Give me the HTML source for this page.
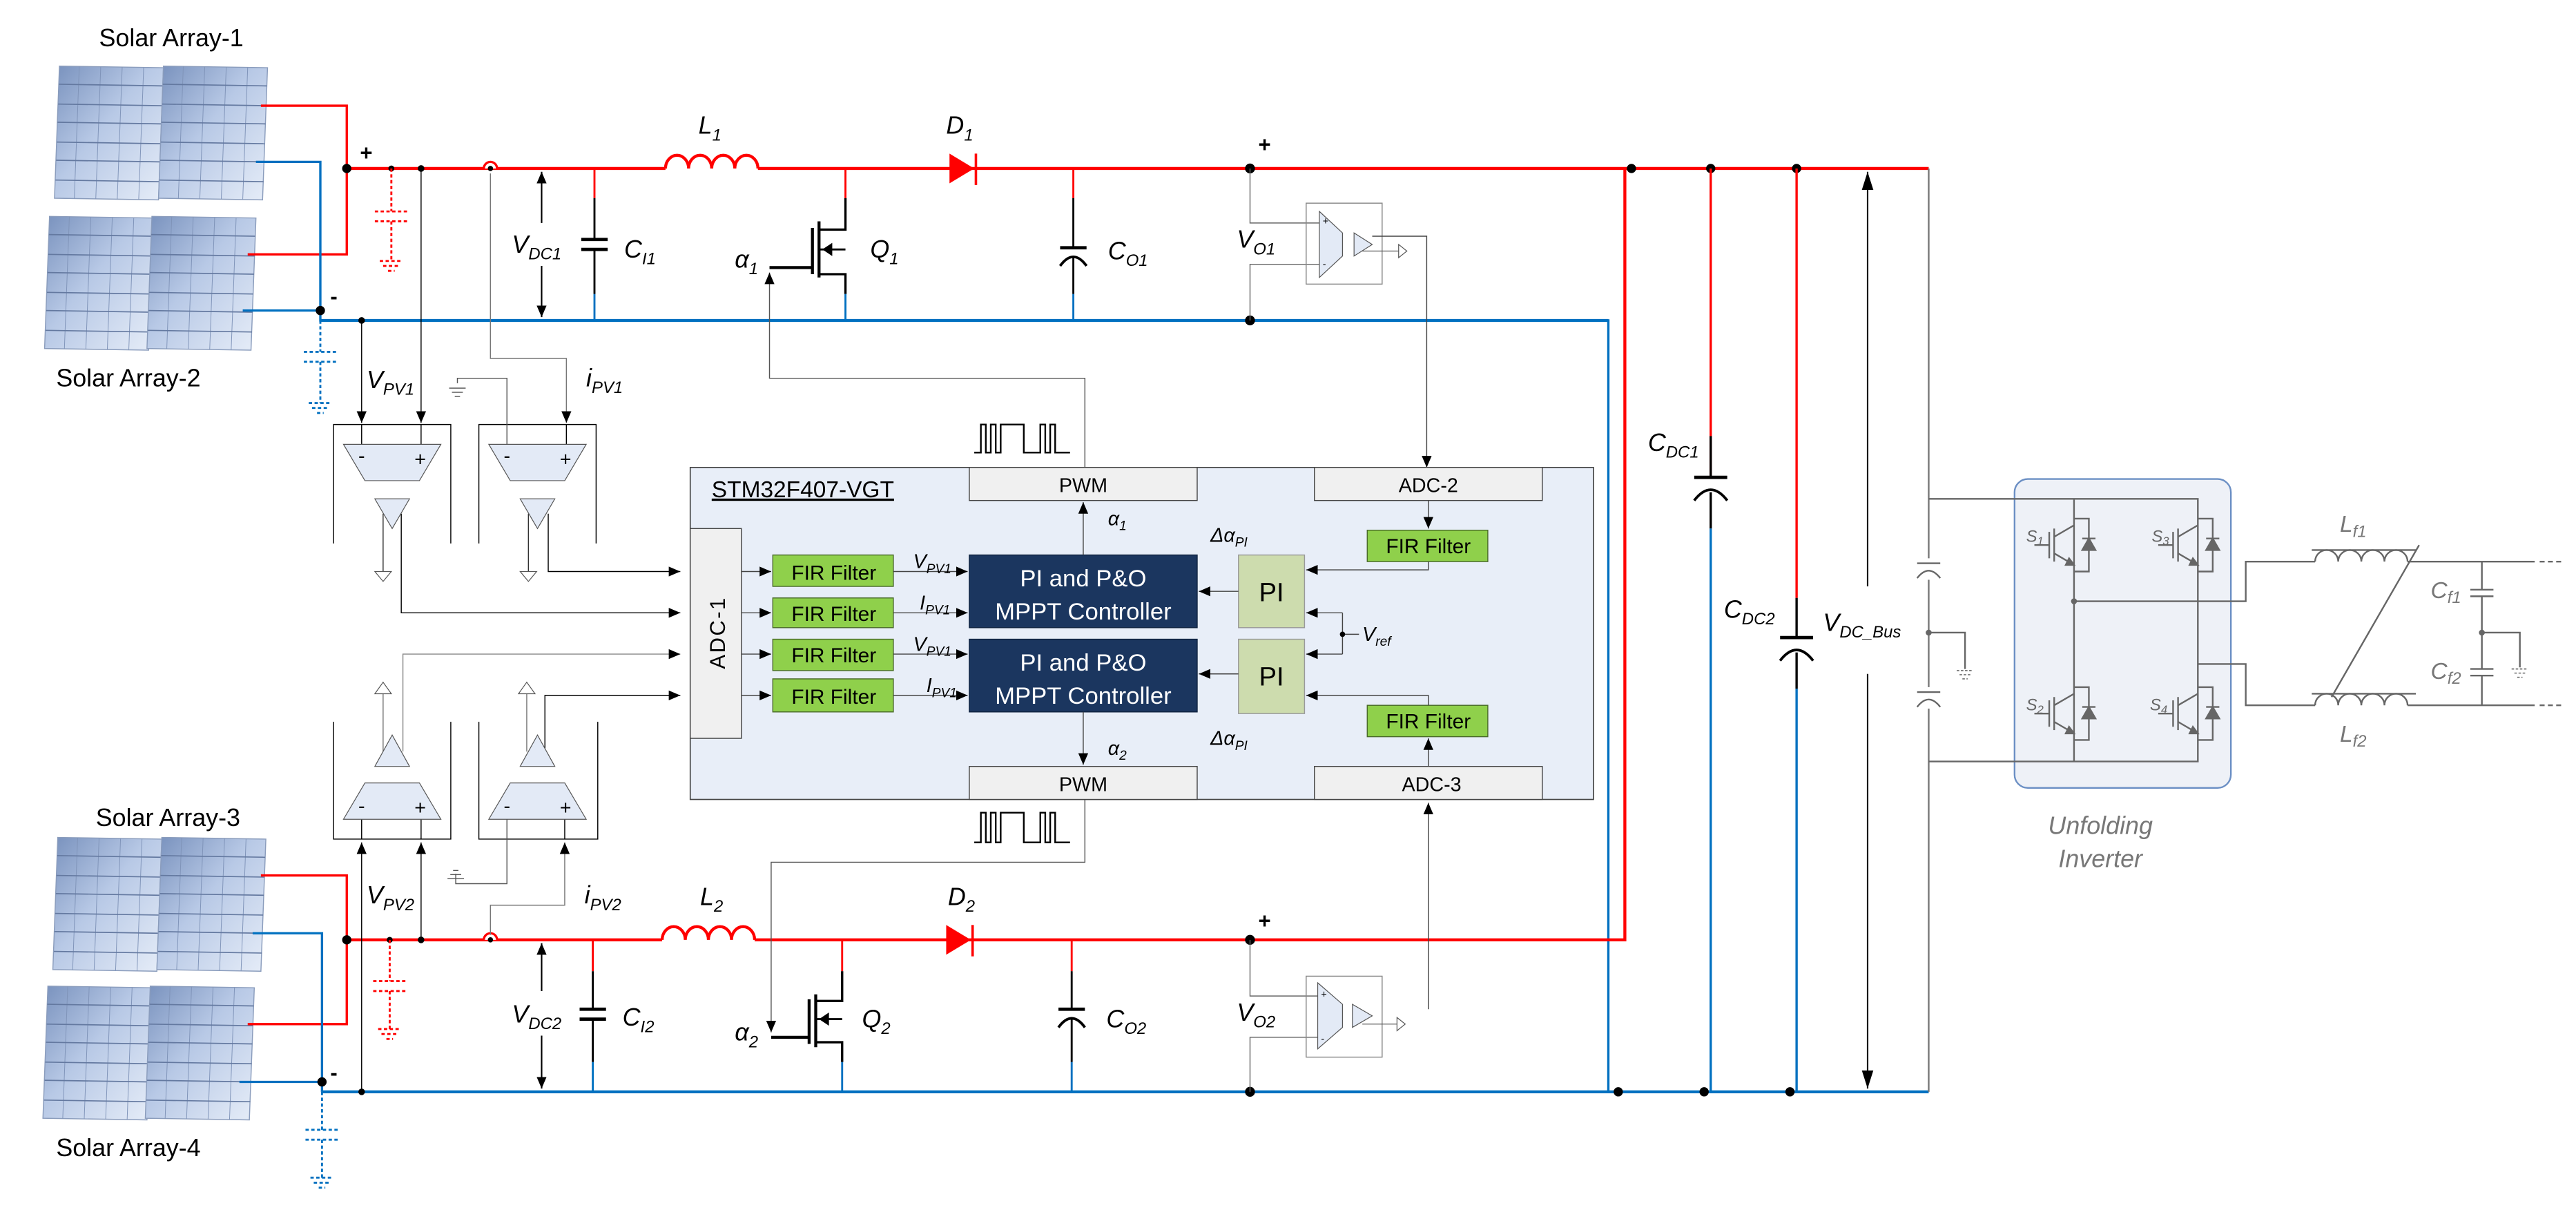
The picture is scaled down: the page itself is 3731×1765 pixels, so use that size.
<!DOCTYPE html>
<html><head><meta charset="utf-8"><style>
html,body{margin:0;padding:0;background:#fff;}
svg{display:block;}
text{font-family:"Liberation Sans",Arial,sans-serif;}
.it{font-style:italic;}
</style></head><body>
<svg width="3731" height="1765" viewBox="0 0 1560 738" preserveAspectRatio="none" xmlns="http://www.w3.org/2000/svg">
<defs>
<linearGradient id="pg" x1="0" y1="0" x2="1" y2="1">
<stop offset="0" stop-color="#7891bd"/><stop offset="0.45" stop-color="#b8c9e6"/><stop offset="1" stop-color="#e6edf8"/></linearGradient>
<g id="panel">
<polygon points="3,0 66,1 63,81 0,80" fill="url(#pg)" stroke="#8a9cbc" stroke-width="0.6"/>
<g stroke="#7f93b8" stroke-width="0.4">
<line x1="15" y1="0.2" x2="12" y2="80.2"/><line x1="28" y1="0.4" x2="25" y2="80.4"/><line x1="41" y1="0.6" x2="38" y2="80.6"/><line x1="54" y1="0.8" x2="51" y2="80.8"/>
</g>
<g stroke="#6479a0" stroke-width="0.7">
<line x1="2.6" y1="11" x2="65.6" y2="12"/><line x1="2.2" y1="23" x2="65.2" y2="24"/><line x1="1.8" y1="34" x2="64.8" y2="35"/><line x1="1.4" y1="46" x2="64.4" y2="47"/><line x1="1" y1="57" x2="64" y2="58"/><line x1="0.6" y1="69" x2="63.6" y2="70"/>
</g></g>
<marker id="ah" markerWidth="8" markerHeight="8" refX="7" refY="4" orient="auto" markerUnits="userSpaceOnUse"><path d="M0,1 L7,4 L0,7 z" fill="#000"/></marker>
<marker id="ahb" markerWidth="12" markerHeight="12" refX="11" refY="6" orient="auto" markerUnits="userSpaceOnUse"><path d="M0,2.5 L11,6 L0,9.5 z" fill="#000"/></marker>
<g id="gnd" stroke="#555" stroke-width="0.6"><line x1="-5" y1="0" x2="5" y2="0"/><line x1="-3.3" y1="2.5" x2="3.3" y2="2.5"/><line x1="-1.6" y1="5" x2="1.6" y2="5"/></g>
<g id="igbt" stroke="#666" stroke-width="1" fill="none">
<line x1="-12" y1="-10" x2="-12" y2="10"/><line x1="-15" y1="-8" x2="-15" y2="8"/><line x1="-24" y1="0" x2="-15" y2="0"/>
<line x1="-12" y1="-5" x2="0" y2="-12"/><line x1="-12" y1="5" x2="0" y2="12"/>
<path d="M-3,8 L0,12 L-5,12 z" fill="#666"/>
<polyline points="0,-16 9,-16 9,16 0,16"/>
<path d="M5,3 L13,3 L9,-4 z" fill="#666"/><line x1="5" y1="-4" x2="13" y2="-4"/>
</g>
</defs>

<use href="#panel" x="33" y="40"/><use href="#panel" x="96" y="40"/>
<use href="#panel" x="27" y="131"/><use href="#panel" x="89" y="131"/>
<use href="#panel" x="32" y="507"/><use href="#panel" x="95" y="507"/>
<use href="#panel" x="26" y="597"/><use href="#panel" x="88" y="597"/>

<g font-size="15" fill="#000">
<text x="60" y="28">Solar Array-1</text>
<text x="34" y="234">Solar Array-2</text>
<text x="58" y="500">Solar Array-3</text>
<text x="34" y="700">Solar Array-4</text>
</g>

<g fill="none" stroke-linejoin="miter">
<polyline points="158,64 210,64 210,154 150,154" stroke="#f00" stroke-width="1.4"/>
<polyline points="210,102 403,102" stroke="#f00" stroke-width="1.8"/>
<polyline points="459,102 1168,102" stroke="#f00" stroke-width="1.8"/>
<polyline points="155,98 194,98 194,194 974,194 974,661" stroke="#0070c0" stroke-width="1.4"/>
<line x1="147" y1="188" x2="194" y2="188" stroke="#0070c0" stroke-width="1.4"/>
<line x1="194" y1="194" x2="974" y2="194" stroke="#0070c0" stroke-width="1.8"/>
<polyline points="158,530 210,530 210,620 150,620" stroke="#f00" stroke-width="1.4"/>
<polyline points="210,569 401,569" stroke="#f00" stroke-width="1.8"/>
<polyline points="457,569 984,569 984,102" stroke="#f00" stroke-width="1.8"/>
<polyline points="153,565 195,565 195,661" stroke="#0070c0" stroke-width="1.4"/>
<line x1="145" y1="655" x2="195" y2="655" stroke="#0070c0" stroke-width="1.4"/>
<line x1="195" y1="661" x2="1168" y2="661" stroke="#0070c0" stroke-width="1.8"/>
</g>

<path d="M403,102 a7,8 0 0 1 14,0 a7,8 0 0 1 14,0 a7,8 0 0 1 14,0 a7,8 0 0 1 14,0" fill="none" stroke="#f00" stroke-width="1.8"/>
<path d="M401,569 a7,8 0 0 1 14,0 a7,8 0 0 1 14,0 a7,8 0 0 1 14,0 a7,8 0 0 1 14,0" fill="none" stroke="#f00" stroke-width="1.8"/>
<path d="M575,93 L590,102 L575,111 z" fill="#f00"/><line x1="591" y1="93" x2="591" y2="112" stroke="#f00" stroke-width="1.5"/>
<path d="M573,560 L588,569 L573,578 z" fill="#f00"/><line x1="589" y1="560" x2="589" y2="579" stroke="#f00" stroke-width="1.5"/>

<g fill="#000">
<circle cx="210" cy="102" r="2.8"/><circle cx="237" cy="102" r="1.8"/><circle cx="255" cy="102" r="2"/>
<circle cx="194" cy="188" r="2.8"/><circle cx="219" cy="194" r="2"/>
<circle cx="757" cy="102" r="3"/><circle cx="757" cy="194" r="3"/>
<circle cx="988" cy="102" r="2.8"/><circle cx="1036" cy="102" r="2.8"/><circle cx="1088" cy="102" r="2.8"/>
<circle cx="210" cy="569" r="2.8"/><circle cx="236" cy="569" r="1.8"/><circle cx="255" cy="569" r="2"/>
<circle cx="195" cy="655" r="2.8"/><circle cx="219" cy="661" r="2"/>
<circle cx="757" cy="569" r="3"/><circle cx="757" cy="661" r="3"/>
<circle cx="980" cy="661" r="2.8"/><circle cx="1032" cy="661" r="2.8"/><circle cx="1084" cy="661" r="2.8"/>
</g>
<path d="M293,102 a4,4 0 0 1 8,0" fill="#fff" stroke="#f00" stroke-width="1.4"/><circle cx="297" cy="102" r="1.6" fill="#000"/>
<path d="M293,569 a4,4 0 0 1 8,0" fill="#fff" stroke="#f00" stroke-width="1.4"/><circle cx="297" cy="569" r="1.6" fill="#000"/>

<g font-size="13" font-weight="bold"><text x="218" y="97">+</text><text x="200" y="184">-</text>
<text x="762" y="92">+</text><text x="200" y="654">-</text><text x="762" y="562">+</text></g>

<g fill="none" stroke-dasharray="2,1.5" stroke-width="1.2">
<g stroke="#f00">
<line x1="237" y1="102" x2="237" y2="128"/><line x1="227" y1="128" x2="247" y2="128"/><line x1="227" y1="134" x2="247" y2="134"/><line x1="237" y1="134" x2="237" y2="158"/>
<line x1="230" y1="158" x2="244" y2="158"/><line x1="232" y1="161" x2="242" y2="161"/><line x1="235" y1="164" x2="239" y2="164"/>
<line x1="236" y1="569" x2="236" y2="594"/><line x1="226" y1="594" x2="246" y2="594"/><line x1="226" y1="600" x2="246" y2="600"/><line x1="236" y1="600" x2="236" y2="623"/>
<line x1="229" y1="623" x2="243" y2="623"/><line x1="231" y1="626" x2="241" y2="626"/><line x1="234" y1="629" x2="238" y2="629"/>
</g>
<g stroke="#0070c0">
<line x1="194" y1="194" x2="194" y2="213"/><line x1="184" y1="213" x2="204" y2="213"/><line x1="184" y1="219" x2="204" y2="219"/><line x1="194" y1="219" x2="194" y2="244"/>
<line x1="187" y1="244" x2="201" y2="244"/><line x1="189" y1="247" x2="199" y2="247"/><line x1="192" y1="250" x2="196" y2="250"/>
<line x1="195" y1="661" x2="195" y2="684"/><line x1="185" y1="684" x2="205" y2="684"/><line x1="185" y1="690" x2="205" y2="690"/><line x1="195" y1="690" x2="195" y2="713"/>
<line x1="188" y1="713" x2="202" y2="713"/><line x1="190" y1="716" x2="200" y2="716"/><line x1="193" y1="719" x2="197" y2="719"/>
</g></g>

<g stroke="#000" stroke-width="0.9" fill="none">
<line x1="328" y1="135" x2="328" y2="104" marker-end="url(#ah)"/><line x1="328" y1="161" x2="328" y2="192" marker-end="url(#ah)"/>
<line x1="328" y1="600" x2="328" y2="571" marker-end="url(#ah)"/><line x1="328" y1="627" x2="328" y2="659" marker-end="url(#ah)"/>
</g>

<g fill="none" stroke-width="1.2">
<line x1="360" y1="102" x2="360" y2="120" stroke="#f00"/><line x1="360" y1="120" x2="360" y2="145" stroke="#000"/><line x1="360" y1="151" x2="360" y2="178" stroke="#000"/><line x1="360" y1="178" x2="360" y2="194" stroke="#0070c0"/>
<line x1="352" y1="145" x2="368" y2="145" stroke="#000" stroke-width="2"/><line x1="352" y1="151" x2="368" y2="151" stroke="#000" stroke-width="2"/>
<line x1="359" y1="569" x2="359" y2="588" stroke="#f00"/><line x1="359" y1="588" x2="359" y2="611" stroke="#000"/><line x1="359" y1="617" x2="359" y2="643" stroke="#000"/><line x1="359" y1="643" x2="359" y2="661" stroke="#0070c0"/>
<line x1="351" y1="611" x2="367" y2="611" stroke="#000" stroke-width="2"/><line x1="351" y1="617" x2="367" y2="617" stroke="#000" stroke-width="2"/>
<line x1="650" y1="102" x2="650" y2="120" stroke="#f00"/><line x1="650" y1="120" x2="650" y2="150" stroke="#000"/><line x1="650" y1="155" x2="650" y2="178" stroke="#000"/><line x1="650" y1="178" x2="650" y2="194" stroke="#0070c0"/>
<line x1="642" y1="150" x2="658" y2="150" stroke="#000" stroke-width="2"/><path d="M642,161 Q650,150 658,161" stroke="#000" stroke-width="1.6"/>
<line x1="649" y1="569" x2="649" y2="588" stroke="#f00"/><line x1="649" y1="588" x2="649" y2="611" stroke="#000"/><line x1="649" y1="616" x2="649" y2="643" stroke="#000"/><line x1="649" y1="643" x2="649" y2="661" stroke="#0070c0"/>
<line x1="641" y1="611" x2="657" y2="611" stroke="#000" stroke-width="2"/><path d="M641,622 Q649,611 657,622" stroke="#000" stroke-width="1.6"/>
</g>

<g fill="none" stroke="#000">
<line x1="512" y1="102" x2="512" y2="120" stroke="#f00" stroke-width="1.2"/>
<polyline points="512,120 512,139 496,139" stroke-width="1.4"/>
<line x1="496" y1="134" x2="496" y2="168" stroke-width="1.8"/>
<line x1="492" y1="138" x2="492" y2="166" stroke-width="1.8"/>
<polyline points="466,162 492,162" stroke-width="1.8"/>
<polyline points="496,166 512,166 512,178" stroke-width="1.4"/>
<line x1="496" y1="151" x2="512" y2="151" stroke-width="1.2"/>
<line x1="512" y1="178" x2="512" y2="194" stroke="#0070c0" stroke-width="1.2"/>
<line x1="510" y1="569" x2="510" y2="588" stroke="#f00" stroke-width="1.2"/>
<polyline points="510,588 510,606 494,606" stroke-width="1.4"/>
<line x1="494" y1="602" x2="494" y2="634" stroke-width="1.8"/>
<line x1="490" y1="605" x2="490" y2="632" stroke-width="1.8"/>
<polyline points="467,628 490,628" stroke-width="1.8"/>
<polyline points="494,631 510,631 510,643" stroke-width="1.4"/>
<line x1="494" y1="617" x2="510" y2="617" stroke-width="1.2"/>
<line x1="510" y1="643" x2="510" y2="661" stroke="#0070c0" stroke-width="1.2"/>
</g>
<path d="M498,151 L504,147 L504,155 z" fill="#000"/><path d="M496,617 L502,613 L502,621 z" fill="#000"/>

<g fill="none" stroke="#555" stroke-width="0.6">
<polyline points="657,283 657,229 466,229 466,165" marker-end="url(#ah)"/>
<polyline points="657,484 657,522 467,522 467,625" marker-end="url(#ah)"/>
</g>
<g fill="none" stroke="#000" stroke-width="1">
<polyline points="590,274 594,274 594,257 597,257 597,274 600,274 600,257 603,257 603,274 606,274 606,257 620,257 620,274 630,274 630,257 633,257 633,274 636,274 636,257 639,257 639,274 648,274"/>
<polyline points="590,510 594,510 594,492 597,492 597,510 600,510 600,492 603,492 603,510 606,510 606,492 620,492 620,510 630,510 630,492 633,492 633,510 636,510 636,492 639,492 639,510 648,510"/>
</g>

<g fill="none" stroke="#666" stroke-width="0.6">
<polyline points="757,102 757,135 799,135"/><polyline points="757,194 757,160 799,160"/>
<rect x="791" y="123" width="46" height="49" stroke="#888"/>
<polyline points="831,143 864,143 864,283" stroke="#444" marker-end="url(#ah)"/>
<polyline points="757,569 757,603 798,603"/><polyline points="757,661 757,628 798,628"/>
<rect x="791" y="591" width="46" height="49" stroke="#888"/>
<polyline points="865,611 865,486" stroke="#444" marker-end="url(#ah)"/>
</g>
<g fill="#e3eaf6" stroke="#555" stroke-width="0.5">
<polygon points="799,128 813,141 813,155 799,168"/><polygon points="820,141 831,148 820,155"/>
<polygon points="798,595 813,608 813,622 798,635"/><polygon points="819,608 831,615 819,622"/>
</g>
<g fill="#fff" stroke="#555" stroke-width="0.5"><polygon points="847,148 852,152 847,156"/><polygon points="846,616 851,620 846,624"/>
<line x1="825" y1="152" x2="847" y2="152"/><line x1="825" y1="620" x2="846" y2="620"/></g>
<g font-size="6" fill="#000"><text x="801" y="136">+</text><text x="801" y="162">-</text><text x="800" y="604">+</text><text x="800" y="631">-</text></g>

<g fill="none" stroke="#000" stroke-width="0.6">
<polyline points="202,329 202,257 273,257 273,329"/><polyline points="290,329 290,257 361,257 361,329"/>
<polyline points="202,437 202,508 273,508 273,437"/><polyline points="290,437 290,508 362,508 362,437"/>
<line x1="219" y1="194" x2="219" y2="256" marker-end="url(#ah)"/><line x1="219" y1="257" x2="219" y2="269"/>
<line x1="255" y1="102" x2="255" y2="256" marker-end="url(#ah)"/><line x1="255" y1="257" x2="255" y2="269"/>
<polyline points="297,105 297,217 343,217 343,256" stroke="#777" marker-end="url(#ah)"/><line x1="343" y1="257" x2="343" y2="269"/>
<polyline points="277,232 277,229 307,229 307,269" stroke="#555"/>
<line x1="232" y1="311" x2="232" y2="346" stroke="#333"/><polyline points="243,311 243,371 412,371" marker-end="url(#ah)"/>
<line x1="320" y1="311" x2="320" y2="346" stroke="#333"/><polyline points="332,311 332,346 412,346" marker-end="url(#ah)"/>
<line x1="219" y1="661" x2="219" y2="510" marker-end="url(#ah)"/><line x1="219" y1="508" x2="219" y2="496"/>
<line x1="255" y1="569" x2="255" y2="510" marker-end="url(#ah)"/><line x1="255" y1="508" x2="255" y2="496"/>
<polyline points="297,566 297,548 342,548 342,510" stroke="#777" marker-end="url(#ah)"/><line x1="342" y1="508" x2="342" y2="496"/>
<polyline points="276,529 276,535 307,535 307,496" stroke="#555"/>
<line x1="232" y1="455" x2="232" y2="420" stroke="#777"/><polyline points="244,455 244,396 412,396" stroke="#888" marker-end="url(#ah)"/>
<line x1="319" y1="455" x2="319" y2="420" stroke="#777"/><polyline points="330,455 330,421 412,421" marker-end="url(#ah)"/>
</g>
<use href="#gnd" x="277" y="235"/><use href="#gnd" x="276" y="527" transform="rotate(180 276 529.5)"/>
<g fill="#e3eaf6" stroke="#555" stroke-width="0.5">
<polygon points="208,269 267,269 254,291 221,291"/><polygon points="296,269 355,269 342,291 309,291"/>
<polygon points="227,302 248,302 237.5,320"/><polygon points="315,302 336,302 325.5,320"/>
<polygon points="221,474 254,474 267,496 208,496"/><polygon points="309,474 342,474 355,496 296,496"/>
<polygon points="227,464 248,464 237.5,445"/><polygon points="315,464 336,464 325.5,445"/>
</g>
<g fill="#fff" stroke="#555" stroke-width="0.5">
<polygon points="227,346 237,346 232,352"/><polygon points="315,346 325,346 320,352"/>
<polygon points="227,420 237,420 232,413"/><polygon points="314,420 324,420 319,413"/>
</g>
<g font-size="12" fill="#000"><text x="217" y="280">-</text><text x="251" y="282">+</text><text x="305" y="280">-</text><text x="339" y="282">+</text>
<text x="217" y="492">-</text><text x="251" y="493">+</text><text x="305" y="492">-</text><text x="339" y="493">+</text></g>

<rect x="418" y="283" width="547" height="201" fill="#e8eef8" stroke="#444" stroke-width="0.7"/>
<text x="431" y="301" font-size="14" text-decoration="underline">STM32F407-VGT</text>
<g fill="#f0f0f0" stroke="#444" stroke-width="0.6">
<rect x="587" y="283" width="138" height="20"/><rect x="796" y="283" width="138" height="20"/>
<rect x="587" y="464" width="138" height="20"/><rect x="796" y="464" width="138" height="20"/>
<rect x="418" y="320" width="31" height="127"/>
</g>
<g font-size="12" text-anchor="middle"><text x="656" y="298">PWM</text><text x="865" y="298">ADC-2</text><text x="656" y="479">PWM</text><text x="867" y="479">ADC-3</text></g>
<text x="439" y="383" font-size="13" text-anchor="middle" transform="rotate(-90 439 383)" letter-spacing="1">ADC-1</text>
<g fill="#8fd04b" stroke="#4a6b2a" stroke-width="0.6">
<rect x="468" y="336" width="73" height="19"/><rect x="468" y="362" width="73" height="18"/><rect x="468" y="387" width="73" height="19"/><rect x="468" y="411" width="73" height="20"/>
<rect x="828" y="321" width="73" height="19"/><rect x="828" y="427" width="73" height="19"/>
</g>
<g font-size="12.5" text-anchor="middle"><text x="505" y="351">FIR Filter</text><text x="505" y="376">FIR Filter</text><text x="505" y="401">FIR Filter</text><text x="505" y="426">FIR Filter</text>
<text x="865" y="335">FIR Filter</text><text x="865" y="441">FIR Filter</text></g>
<g fill="#1b365f" stroke="#0f2340" stroke-width="0.6"><rect x="587" y="336" width="138" height="44"/><rect x="587" y="387" width="138" height="44"/></g>
<g font-size="14.5" fill="#fff" text-anchor="middle"><text x="656" y="355">PI and P&amp;O</text><text x="656" y="375">MPPT Controller</text>
<text x="656" y="406">PI and P&amp;O</text><text x="656" y="426">MPPT Controller</text></g>
<g fill="#cddcae" stroke="#999" stroke-width="0.6"><rect x="750" y="336" width="40" height="44"/><rect x="750" y="387" width="40" height="45"/></g>
<g font-size="16" text-anchor="middle"><text x="770" y="364">PI</text><text x="770" y="415">PI</text></g>
<g fill="none" stroke="#444" stroke-width="0.6">
<line x1="449" y1="346" x2="467" y2="346" marker-end="url(#ah)"/><line x1="449" y1="371" x2="467" y2="371" marker-end="url(#ah)"/>
<line x1="449" y1="396" x2="467" y2="396" marker-end="url(#ah)"/><line x1="449" y1="421" x2="467" y2="421" marker-end="url(#ah)"/>
<line x1="541" y1="346" x2="586" y2="346" marker-end="url(#ah)"/><line x1="541" y1="371" x2="586" y2="371" marker-end="url(#ah)"/>
<line x1="541" y1="396" x2="586" y2="396" marker-end="url(#ah)"/><line x1="541" y1="421" x2="586" y2="421" marker-end="url(#ah)"/>
<line x1="656" y1="336" x2="656" y2="304" marker-end="url(#ah)"/><line x1="656" y1="431" x2="656" y2="463" marker-end="url(#ah)"/>
<line x1="750" y1="358" x2="726" y2="358" marker-end="url(#ah)"/><line x1="750" y1="408" x2="726" y2="408" marker-end="url(#ah)"/>
<line x1="865" y1="303" x2="865" y2="320" marker-end="url(#ah)"/><line x1="865" y1="464" x2="865" y2="447" marker-end="url(#ah)"/>
<polyline points="865,340 865,345 791,345" marker-end="url(#ah)"/><polyline points="865,427 865,421 791,421" marker-end="url(#ah)"/>
<polyline points="813,371 791,371" marker-end="url(#ah)"/><polyline points="813,396 791,396" marker-end="url(#ah)"/>
<line x1="813" y1="371" x2="813" y2="396"/><line x1="813" y1="384" x2="823" y2="384"/>
</g>
<circle cx="813" cy="384" r="1.6" fill="#000"/>

<g fill="none" stroke-width="1.4">
<line x1="1036" y1="102" x2="1036" y2="289" stroke="#f00"/><line x1="1036" y1="264" x2="1036" y2="289" stroke="#000"/><line x1="1036" y1="298" x2="1036" y2="320" stroke="#000"/><line x1="1036" y1="320" x2="1036" y2="661" stroke="#0070c0"/>
<line x1="1026" y1="289" x2="1046" y2="289" stroke="#000" stroke-width="2"/><path d="M1026,303 Q1036,290 1046,303" stroke="#000" stroke-width="1.6"/>
<line x1="1088" y1="102" x2="1088" y2="362" stroke="#f00"/><line x1="1088" y1="362" x2="1088" y2="386" stroke="#000"/><line x1="1088" y1="395" x2="1088" y2="417" stroke="#000"/><line x1="1088" y1="417" x2="1088" y2="661" stroke="#0070c0"/>
<line x1="1078" y1="386" x2="1098" y2="386" stroke="#000" stroke-width="2"/><path d="M1078,400 Q1088,387 1098,400" stroke="#000" stroke-width="1.6"/>
</g>
<g stroke="#000" stroke-width="0.9"><line x1="1131" y1="355" x2="1131" y2="104" marker-end="url(#ahb)"/><line x1="1131" y1="408" x2="1131" y2="659" marker-end="url(#ahb)"/></g>
<line x1="1168" y1="102" x2="1168" y2="661" stroke="#777" stroke-width="1"/>

<rect x="1220" y="290" width="131" height="187" rx="8" fill="#eef1f7" stroke="#6b8fc4" stroke-width="1"/>
<g fill="none" stroke="#666" stroke-width="1">
<rect x="1160" y="338" width="16" height="13" fill="#fff" stroke="none"/><rect x="1160" y="416" width="16" height="13" fill="#fff" stroke="none"/>
<line x1="1161" y1="341" x2="1175" y2="341"/><path d="M1161,350 Q1168,341 1175,350"/>
<line x1="1161" y1="419" x2="1175" y2="419"/><path d="M1161,428 Q1168,419 1175,428"/>
<polyline points="1168,383 1190,383 1190,405"/>
<polyline points="1168,302 1331,302 1331,461 1168,461"/>
<line x1="1256" y1="302" x2="1256" y2="461"/>
<polyline points="1256,364 1360,364 1360,340 1402,340"/>
<polyline points="1331,402 1360,402 1360,427 1402,427"/>
<path d="M1402,340 a7,7 0 0 1 14,0 a7,7 0 0 1 14,0 a7,7 0 0 1 14,0 a7,7 0 0 1 14,0"/>
<path d="M1402,427 a7,7 0 0 1 14,0 a7,7 0 0 1 14,0 a7,7 0 0 1 14,0 a7,7 0 0 1 14,0"/>
<line x1="1400" y1="333" x2="1463" y2="333"/><line x1="1400" y1="420" x2="1463" y2="420"/>
<line x1="1465" y1="330" x2="1412" y2="422"/>
<line x1="1458" y1="340" x2="1535" y2="340"/><line x1="1458" y1="427" x2="1535" y2="427"/>
<line x1="1503" y1="340" x2="1503" y2="357"/><line x1="1503" y1="361" x2="1503" y2="405"/><line x1="1503" y1="409" x2="1503" y2="427"/>
<line x1="1496" y1="357" x2="1510" y2="357"/><line x1="1496" y1="361" x2="1510" y2="361"/>
<line x1="1496" y1="405" x2="1510" y2="405"/><line x1="1496" y1="409" x2="1510" y2="409"/>
<polyline points="1503,383 1526,383 1526,404"/>
<line x1="1538" y1="340" x2="1552" y2="340" stroke-dasharray="3,2"/><line x1="1538" y1="427" x2="1552" y2="427" stroke-dasharray="3,2"/>
</g>
<g stroke="#666" stroke-dasharray="1.5,1"><use href="#gnd" x="1190" y="406"/><use href="#gnd" x="1526" y="405"/></g>
<g fill="#666"><circle cx="1256" cy="364" r="1.8"/><circle cx="1168" cy="383" r="1.8"/><circle cx="1503" cy="383" r="1.8"/></g>
<use href="#igbt" x="1256" y="330"/><use href="#igbt" x="1331" y="330"/>
<use href="#igbt" x="1256" y="432"/><use href="#igbt" x="1331" y="432"/>
<g font-size="10" fill="#666" class="it"><text x="1227" y="328">S<tspan dy="2" font-size="7">1</tspan></text><text x="1303" y="328">S<tspan dy="2" font-size="7">3</tspan></text>
<text x="1227" y="430">S<tspan dy="2" font-size="7">2</tspan></text><text x="1302" y="430">S<tspan dy="2" font-size="7">4</tspan></text></g>
<g font-size="15" fill="#777" class="it" text-anchor="middle"><text x="1272" y="505">Unfolding</text><text x="1272" y="525">Inverter</text></g>
<g font-size="14" fill="#777" class="it">
<text x="1417" y="322">L<tspan dy="3" font-size="10">f1</tspan></text>
<text x="1417" y="449">L<tspan dy="3" font-size="10">f2</tspan></text>
<text x="1472" y="362">C<tspan dy="3" font-size="10">f1</tspan></text>
<text x="1472" y="411">C<tspan dy="3" font-size="10">f2</tspan></text>
</g>

<g font-size="15" class="it" fill="#000">
<text x="423" y="81">L<tspan dy="4" font-size="10">1</tspan></text>
<text x="573" y="81">D<tspan dy="4" font-size="10">1</tspan></text>
<text x="310" y="153">V<tspan dy="4" font-size="10">DC1</tspan></text>
<text x="378" y="156">C<tspan dy="4" font-size="10">I1</tspan></text>
<text x="527" y="156">Q<tspan dy="4" font-size="10">1</tspan></text>
<text x="445" y="162">α<tspan dy="4" font-size="10">1</tspan></text>
<text x="671" y="157">C<tspan dy="4" font-size="10">O1</tspan></text>
<text x="749" y="150">V<tspan dy="4" font-size="10">O1</tspan></text>
<text x="222" y="235">V<tspan dy="4" font-size="10">PV1</tspan></text>
<text x="355" y="234">i<tspan dy="4" font-size="10">PV1</tspan></text>
<text x="222" y="547">V<tspan dy="4" font-size="10">PV2</tspan></text>
<text x="354" y="547">i<tspan dy="4" font-size="10">PV2</tspan></text>
<text x="424" y="548">L<tspan dy="4" font-size="10">2</tspan></text>
<text x="574" y="548">D<tspan dy="4" font-size="10">2</tspan></text>
<text x="310" y="619">V<tspan dy="4" font-size="10">DC2</tspan></text>
<text x="377" y="621">C<tspan dy="4" font-size="10">I2</tspan></text>
<text x="522" y="622">Q<tspan dy="4" font-size="10">2</tspan></text>
<text x="445" y="630">α<tspan dy="4" font-size="10">2</tspan></text>
<text x="670" y="622">C<tspan dy="4" font-size="10">O2</tspan></text>
<text x="749" y="618">V<tspan dy="4" font-size="10">O2</tspan></text>
<text x="998" y="273">C<tspan dy="4" font-size="10">DC1</tspan></text>
<text x="1044" y="374">C<tspan dy="4" font-size="10">DC2</tspan></text>
<text x="1104" y="382">V<tspan dy="4" font-size="10">DC_Bus</tspan></text>
</g>
<g font-size="12" class="it" fill="#000">
<text x="553" y="344">V<tspan dy="3" font-size="8">PV1</tspan></text>
<text x="557" y="369">I<tspan dy="3" font-size="8">PV1</tspan></text>
<text x="553" y="394">V<tspan dy="3" font-size="8">PV1</tspan></text>
<text x="561" y="419">I<tspan dy="3" font-size="8">PV1</tspan></text>
<text x="671" y="318">α<tspan dy="3" font-size="8">1</tspan></text>
<text x="671" y="457">α<tspan dy="3" font-size="8">2</tspan></text>
<text x="733" y="328">Δα<tspan dy="3" font-size="8">PI</tspan></text>
<text x="733" y="451">Δα<tspan dy="3" font-size="8">PI</tspan></text>
<text x="825" y="388">V<tspan dy="3" font-size="8">ref</tspan></text>
</g>
</svg>
</body></html>
